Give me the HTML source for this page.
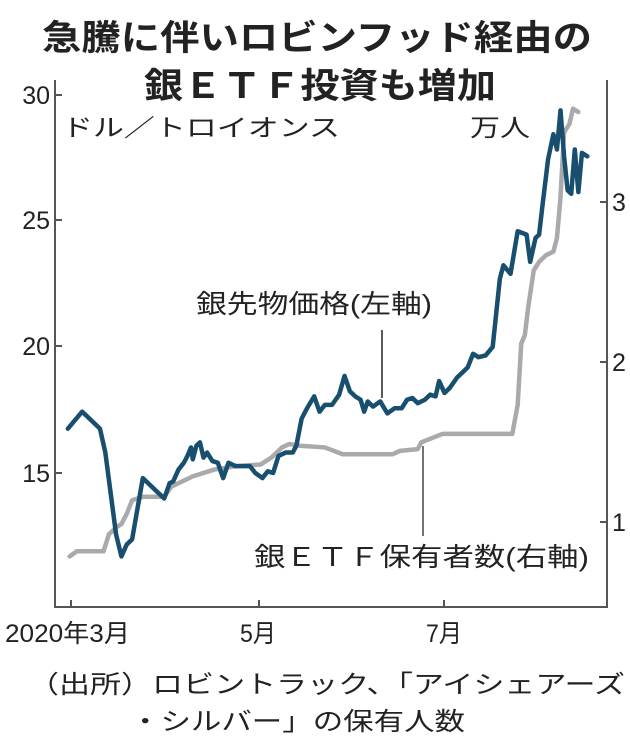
<!DOCTYPE html>
<html><head><meta charset="utf-8"><style>
html,body{margin:0;padding:0;background:#fff;}
svg{display:block;}
text{font-family:"Liberation Sans","Noto Sans CJK JP",sans-serif;fill:#222;}
</style></head><body>
<svg width="630" height="748" viewBox="0 0 630 748" xmlns="http://www.w3.org/2000/svg">
<text x="317" y="50" font-size="35" font-weight="bold" text-anchor="middle" textLength="550" lengthAdjust="spacingAndGlyphs" fill="#111">急騰に伴いロビンフッド経由の</text>
<text x="320" y="98" font-size="35" font-weight="bold" text-anchor="middle" textLength="352" lengthAdjust="spacingAndGlyphs" fill="#111">銀ＥＴＦ投資も増加</text>
<g stroke="#555" stroke-width="2" fill="none">
<polyline points="55,80 55,607 607,607 607,80"/>
<line x1="55" y1="95" x2="62" y2="95"/><line x1="55" y1="220" x2="62" y2="220"/><line x1="55" y1="346" x2="62" y2="346"/><line x1="55" y1="473" x2="62" y2="473"/>
<line x1="600" y1="202" x2="607" y2="202"/><line x1="600" y1="362" x2="607" y2="362"/><line x1="600" y1="522" x2="607" y2="522"/>
<line x1="71" y1="600" x2="71" y2="607"/><line x1="259" y1="600" x2="259" y2="607"/><line x1="444" y1="600" x2="444" y2="607"/>
</g>
<g font-size="25" text-anchor="end">
<text x="50" y="104">30</text><text x="50" y="229">25</text><text x="50" y="355">20</text><text x="50" y="482">15</text>
</g>
<g font-size="25">
<text x="612" y="211">3</text><text x="612" y="371">2</text><text x="612" y="531">1</text>
</g>
<g font-size="25">
<text x="5" y="642" textLength="125" lengthAdjust="spacingAndGlyphs">2020年3月</text>
<text x="240" y="642" textLength="36" lengthAdjust="spacingAndGlyphs">5月</text>
<text x="426" y="642" textLength="36" lengthAdjust="spacingAndGlyphs">7月</text>
</g>
<text x="62" y="136" font-size="24" textLength="278" lengthAdjust="spacingAndGlyphs">ドル／トロイオンス</text>
<text x="470" y="136" font-size="24" textLength="60" lengthAdjust="spacingAndGlyphs">万人</text>
<g transform="translate(50,84.8) scale(0.357,0.3405)" fill="none" stroke-linejoin="round" stroke-linecap="round">
<polyline vector-effect="non-scaling-stroke" stroke="#a9a9ae" stroke-width="4.5" points="55,1385 75,1370 150,1370 165,1320 185,1300 200,1290 215,1260 230,1220 260,1210 320,1210 340,1180 400,1150 460,1130 520,1120 590,1115 620,1095 650,1065 670,1055 700,1060 770,1065 820,1085 960,1085 980,1075 1030,1070 1040,1050 1100,1025 1150,1025 1295,1025 1310,940 1320,760 1330,735 1340,650 1355,545 1370,520 1390,500 1410,490 1420,450 1430,330 1440,140 1455,115 1465,70 1480,80"/>
<polyline vector-effect="non-scaling-stroke" stroke="#184e6e" stroke-width="4.5" points="50,1010 90,960 130,1000 140,1010 155,1080 170,1200 185,1320 200,1385 215,1350 230,1335 260,1155 300,1195 320,1215 335,1170 345,1165 360,1130 375,1110 385,1090 395,1065 400,1100 410,1060 420,1050 430,1095 440,1080 455,1105 470,1110 485,1155 500,1110 520,1120 560,1120 575,1140 595,1155 610,1135 625,1140 640,1090 660,1080 680,1080 690,1060 705,980 720,950 740,915 755,960 770,940 790,940 800,925 810,910 825,855 840,900 855,915 870,925 880,960 890,930 905,945 925,930 945,965 965,950 985,950 1000,925 1015,920 1030,935 1050,925 1065,910 1080,915 1090,870 1105,905 1120,890 1140,860 1160,840 1170,830 1185,790 1200,800 1220,795 1240,770 1260,570 1270,530 1290,555 1310,430 1335,440 1345,520 1360,450 1370,440 1380,350 1395,220 1410,145 1420,190 1430,75 1440,210 1450,310 1460,320 1470,190 1480,315 1490,200 1505,210"/>
</g>
<line x1="382" y1="330" x2="382" y2="398" stroke="#222" stroke-width="1.5"/>
<line x1="423" y1="446" x2="423" y2="536" stroke="#444" stroke-width="1.5"/>
<text x="196" y="313" font-size="26" textLength="236" lengthAdjust="spacingAndGlyphs">銀先物価格(左軸)</text>
<text x="254" y="566" font-size="26" textLength="335" lengthAdjust="spacingAndGlyphs">銀ＥＴＦ保有者数(右軸)</text>
<text x="28" y="693" font-size="25" textLength="597" lengthAdjust="spacingAndGlyphs">（出所）ロビントラック、「アイシェアーズ</text>
<text x="130" y="730" font-size="25" textLength="335" lengthAdjust="spacingAndGlyphs">・シルバー」の保有人数</text>
</svg>
</body></html>
